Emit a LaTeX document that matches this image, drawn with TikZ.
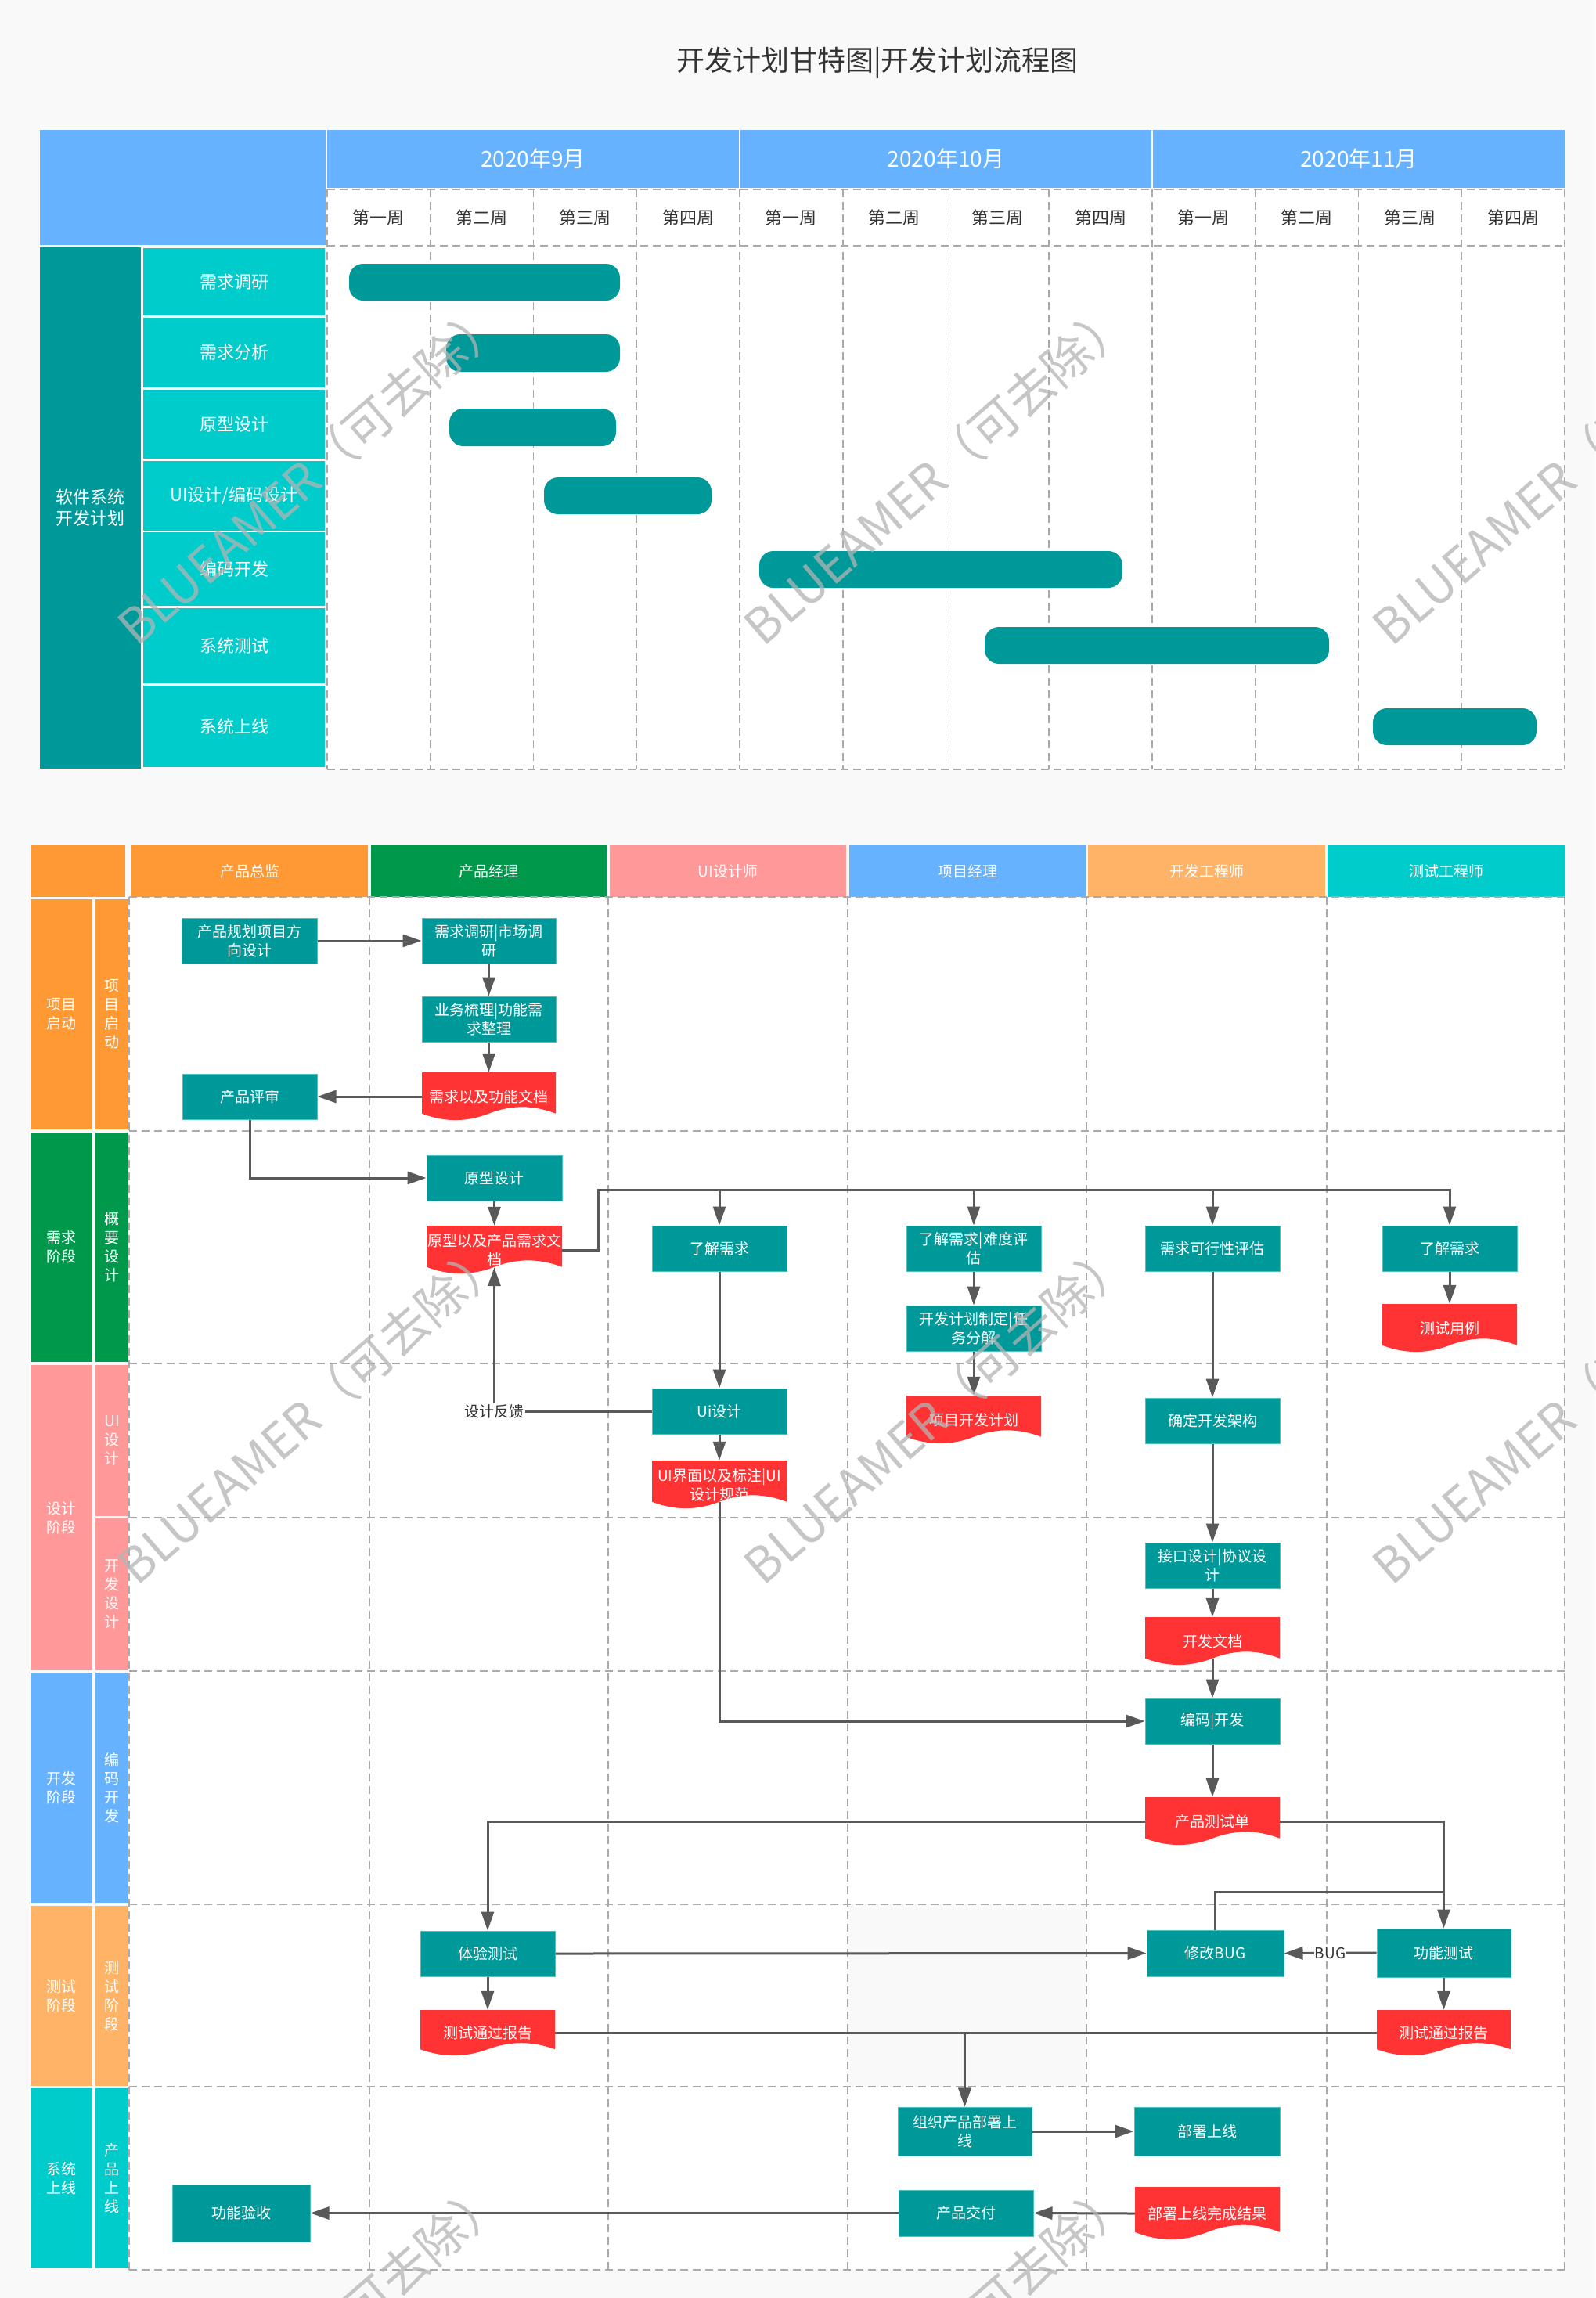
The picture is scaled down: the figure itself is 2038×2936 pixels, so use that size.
\documentclass[tikz,border=0pt]{standalone}
\usepackage{fontspec}
\setmainfont{Noto Sans CJK SC}
\usetikzlibrary{arrows.meta,calc}
\definecolor{bgc}{HTML}{F9F9F9}
\definecolor{teal1}{HTML}{009999}
\definecolor{cyan1}{HTML}{00CCCC}
\definecolor{blue1}{HTML}{66B2FF}
\definecolor{orange1}{HTML}{FF9933}
\definecolor{green1}{HTML}{00994C}
\definecolor{pink1}{HTML}{FF9999}
\definecolor{lorange}{HTML}{FFB366}
\definecolor{red1}{HTML}{FF3333}
\definecolor{linec}{HTML}{595959}
\definecolor{gridc}{HTML}{AAAAAA}
\definecolor{txtc}{HTML}{333333}
\definecolor{tborder}{HTML}{4DC2C2}
\definecolor{wmc}{HTML}{B4B4B4}

\tikzset{
  tbox/.style={fill=teal1, draw=tborder, line width=1pt, text=white, align=center,
    font=\fontsize{19}{24}\selectfont, inner sep=1pt},
  dbox/.style={text=white, align=center, font=\fontsize{19}{24}\selectfont, inner sep=0pt},
  arr/.style={draw=linec, line width=3pt, -{Triangle[length=24pt,width=16pt]}},
  ln/.style={draw=linec, line width=3pt},
  gridln/.style={draw=gridc, line width=1.6pt, dash pattern=on 10pt off 6pt},
  lbl/.style={fill=white, text=txtc, font=\fontsize{19}{24}\selectfont, inner sep=1pt},
  cell/.style={inner sep=0pt, text=white, align=center},
  task/.style={cell, fill=cyan1, font=\fontsize{22}{27}\selectfont},
  wk/.style={text=txtc, font=\fontsize{22}{26}\selectfont},
  month/.style={cell, fill=blue1, font=\fontsize{28}{32}\selectfont},
  lane/.style={cell, font=\fontsize{19}{24}\selectfont},
  wm/.style={rotate=41, text=wmc, text opacity=0.75, font=\fontsize{62}{70}\selectfont},
}

\newcommand{\mkbox}[6]{%
  \node[tbox, minimum width={#4-#2}, minimum height={#5-#3}] (#1) at ({(#2+#4)/2},{(#3+#5)/2}) {#6};}
\newcommand{\mkdoc}[6]{%
  \pgfmathsetmacro{\myW}{#4-#2}%
  \pgfmathsetmacro{\myH}{#5-#3}%
  \pgfmathsetmacro{\myD}{0.3*\myH}%
  \pgfmathsetmacro{\myB}{#5-\myD/2}%
  \fill[red1] (#2,#3) -- (#4,#3) -- (#4,\myB)
    .. controls ({#4-\myW/6},{\myB-0.6*\myD}) and ({#2+\myW*2/3},{\myB-0.6*\myD}) .. ({#2+\myW/2},\myB)
    .. controls ({#2+\myW/3},{\myB+0.6*\myD}) and ({#2+\myW/6},{\myB+0.6*\myD}) .. (#2,\myB) -- cycle;
  \node[dbox, minimum width={#4-#2}, minimum height={#5-#3}] (#1) at ({(#2+#4)/2},{(#3+#5)/2}) {#6};}

\begin{document}
\begin{tikzpicture}[x=1pt,y=-1pt]
\path[use as bounding box, fill=bgc] (0,0) rectangle (2038,2936);

% ---------- title ----------
\node[text=txtc, font=\fontsize{36}{42}\selectfont] (title) at (1121,80) {开发计划甘特图|开发计划流程图};

% ---------- Gantt ----------
\node[cell, fill=blue1, minimum width=365, minimum height=147] (corner) at (233.5,239.5) {};
\node[month, minimum width=526, minimum height=74] (m9) at (681,203) {2020年9月};
\node[month, minimum width=525, minimum height=74] (m10) at (1208.5,203) {2020年10月};
\node[month, minimum width=526, minimum height=74] (m11) at (1736,203) {2020年11月};
\fill[white] (418,242) rectangle (1999,983);
\foreach \i/\t in {0/第一周,1/第二周,2/第三周,3/第四周,4/第一周,5/第二周,6/第三周,7/第四周,8/第一周,9/第二周,10/第三周,11/第四周}
  \node[wk] (wk\i) at ({418+131.75*(\i+0.5)},278) {\t};
\foreach \y in {242,314,983} \draw[gridln] (418,\y) -- (1999,\y);
\foreach \i in {0,...,12} \draw[gridln] ({418+131.75*\i},242) -- ({418+131.75*\i},983);

\node[cell, fill=teal1, minimum width=129, minimum height=666, font=\fontsize{22}{27}\selectfont] (grp) at (115.5,649) {软件系统\\开发计划};
\node[task, minimum width=232, minimum height=86] (tk1) at (299,360) {需求调研};
\node[task, minimum width=232, minimum height=89] (tk2) at (299,450.5) {需求分析};
\node[task, minimum width=232, minimum height=88] (tk3) at (299,542) {原型设计};
\node[task, minimum width=232, minimum height=89] (tk4) at (299,633.5) {UI设计/编码设计};
\node[task, minimum width=232, minimum height=94] (tk5) at (299,727) {编码开发};
\node[task, minimum width=232, minimum height=96] (tk6) at (299,825) {系统测试};
\node[task, minimum width=232, minimum height=104] (tk7) at (299,928) {系统上线};

\fill[teal1, rounded corners=18pt] (446,337) rectangle (792,384);
\fill[teal1, rounded corners=18pt] (570,427) rectangle (792,475);
\fill[teal1, rounded corners=18pt] (574,522) rectangle (787,570);
\fill[teal1, rounded corners=18pt] (695,610) rectangle (909,657);
\fill[teal1, rounded corners=18pt] (970,704) rectangle (1434,751);
\fill[teal1, rounded corners=18pt] (1258,801) rectangle (1698,848);
\fill[teal1, rounded corners=18pt] (1754,905) rectangle (1963,952);

% ---------- Swimlane frame ----------
\node[cell, fill=orange1, minimum width=121, minimum height=66] (sc) at (99.5,1113) {};
\node[lane, fill=orange1, minimum width=302, minimum height=66] (h1) at (319,1113) {产品总监};
\node[lane, fill=green1, minimum width=301, minimum height=66] (h2) at (624.5,1113) {产品经理};
\node[lane, fill=pink1, minimum width=302, minimum height=66] (h3) at (930,1113) {UI设计师};
\node[lane, fill=blue1, minimum width=302, minimum height=66] (h4) at (1236,1113) {项目经理};
\node[lane, fill=lorange, minimum width=303, minimum height=66] (h5) at (1541.5,1113) {开发工程师};
\node[lane, fill=cyan1, minimum width=303, minimum height=66] (h6) at (1847.5,1113) {测试工程师};

\node[lane, fill=orange1, minimum width=79, minimum height=294] (r1) at (78.5,1296) {项目\\启动};
\node[lane, fill=orange1, minimum width=42, minimum height=294] (s1) at (143,1296) {项\\目\\启\\动};
\node[lane, fill=green1, minimum width=79, minimum height=293] (r2) at (78.5,1593.5) {需求\\阶段};
\node[lane, fill=green1, minimum width=42, minimum height=293] (s2) at (143,1593.5) {概\\要\\设\\计};
\node[lane, fill=pink1, minimum width=79, minimum height=390] (r3) at (78.5,1939) {设计\\阶段};
\node[lane, fill=pink1, minimum width=42, minimum height=193] (s3a) at (143,1840.5) {UI\\设\\计};
\node[lane, fill=pink1, minimum width=42, minimum height=194] (s3b) at (143,2037) {开\\发\\设\\计};
\node[lane, fill=blue1, minimum width=79, minimum height=294] (r4) at (78.5,2284) {开发\\阶段};
\node[lane, fill=blue1, minimum width=42, minimum height=294] (s4) at (143,2284) {编\\码\\开\\发};
\node[lane, fill=lorange, minimum width=79, minimum height=230] (r5) at (78.5,2550) {测试\\阶段};
\node[lane, fill=lorange, minimum width=42, minimum height=230] (s5) at (143,2550) {测\\试\\阶\\段};
\node[lane, fill=cyan1, minimum width=79, minimum height=230] (r6) at (78.5,2783) {系统\\上线};
\node[lane, fill=cyan1, minimum width=42, minimum height=230] (s6) at (143,2783) {产\\品\\上\\线};

\fill[white] (165,1146) rectangle (1999,2900);
\fill[bgc] (1083,2433) rectangle (1388,2666);
\foreach \x in {165,472,777,1083,1388,1695,1999} \draw[gridln] (\x,1146) -- (\x,2900);
\foreach \y in {1146,1445,1742,1939,2135,2433,2666,2900} \draw[gridln] (165,\y) -- (1999,\y);

% ---------- flow nodes ----------
\mkbox{n1}{232}{1173}{405}{1231}{产品规划项目方\\向设计}
\mkbox{n2}{539}{1173}{710}{1231}{需求调研|市场调\\研}
\mkbox{n3}{539}{1273}{710}{1331}{业务梳理|功能需\\求整理}
\mkdoc{d1}{539}{1370}{710}{1432}{需求以及功能文档}
\mkbox{n4}{233}{1372}{405}{1430}{产品评审}
\mkbox{n5}{545}{1476}{718}{1534}{原型设计}
\mkdoc{d2}{545}{1566}{718}{1628}{原型以及产品需求文\\档}
\mkbox{n6}{833}{1566}{1005}{1624}{了解需求}
\mkbox{n7}{1158}{1566}{1330}{1624}{了解需求|难度评\\估}
\mkbox{n8}{1158}{1668}{1330}{1726}{开发计划制定|任\\务分解}
\mkbox{n9}{1463}{1566}{1635}{1624}{需求可行性评估}
\mkbox{n10}{1766}{1566}{1938}{1624}{了解需求}
\mkdoc{d3}{1766}{1666}{1938}{1728}{测试用例}
\mkbox{n11}{833}{1774}{1005}{1832}{Ui设计}
\mkdoc{d4}{833}{1866}{1005}{1928}{UI界面以及标注|UI\\设计规范}
\mkdoc{d5}{1158}{1783}{1330}{1845}{项目开发计划}
\mkbox{n12}{1463}{1786}{1635}{1844}{确定开发架构}
\mkbox{n13}{1463}{1971}{1635}{2029}{接口设计|协议设\\计}
\mkdoc{d6}{1463}{2066}{1635}{2128}{开发文档}
\mkbox{n14}{1463}{2170}{1635}{2228}{编码|开发}
\mkdoc{d7}{1463}{2296}{1635}{2358}{产品测试单}
\mkbox{n15}{537}{2467}{709}{2525}{体验测试}
\mkdoc{d8}{537}{2568}{709}{2627}{测试通过报告}
\mkbox{n16}{1465}{2466}{1640}{2525}{修改BUG}
\mkbox{n17}{1759}{2464}{1930}{2526}{功能测试}
\mkdoc{d9}{1759}{2568}{1930}{2627}{测试通过报告}
\mkbox{n18}{1147}{2692}{1318}{2754}{组织产品部署上\\线}
\mkbox{n19}{1449}{2692}{1635}{2754}{部署上线}
\mkbox{n20}{1148}{2798}{1320}{2857}{产品交付}
\mkdoc{d10}{1450}{2794}{1635}{2862}{部署上线完成结果}
\mkbox{n21}{220}{2791}{396}{2864}{功能验收}

\coordinate (bus) at (764,1520);
\coordinate (bugj) at (1844.5,2417);

% ---------- connectors ----------
\draw[arr] (n1.east) -- (n2.west);
\draw[arr] (n2.south) -- (n3.north);
\draw[arr] (n3.south) -- (d1.north);
\draw[arr] (d1.west) -- (n4.east);
\draw[arr] (n4.south) |- (n5.west);
\draw[arr] (n5.south) -- (d2.north);
\draw[arr] (d2.east) -| (bus) -| (n10.north);
\draw[arr] (n6.north |- bus) -- (n6.north);
\draw[arr] (n7.north |- bus) -- (n7.north);
\draw[arr] (n9.north |- bus) -- (n9.north);
\draw[arr] (n6.south) -- (n11.north);
\draw[arr] (n11.south) -- (d4.north);
\draw[arr] (n11.west) -| node[lbl, pos=0.5] (fb) {设计反馈} ([yshift=9pt]d2.south);
\draw[arr] (n7.south) -- (n8.north);
\draw[arr] (n8.south) -- (d5.north);
\draw[arr] (n9.south) -- (n12.north);
\draw[arr] (n12.south) -- (n13.north);
\draw[arr] (n13.south) -- (d6.north);
\draw[arr] ([yshift=9pt]d6.south) -- (n14.north);
\draw[arr] (n14.south) -- (d7.north);
\draw[arr] (n10.south) -- (d3.north);
\draw[arr] ([yshift=9pt]d4.south) |- (n14.west);
\draw[arr] (d7.west) -| (n15.north);
\draw[arr] (d7.east) -| (n17.north);
\draw[ln] (n16.north) |- (bugj);
\draw[arr] (n15.east) -- (n16.west);
\draw[arr] (n17.west) -- node[lbl] (bug) {BUG} (n16.east);
\draw[arr] (n15.south) -- (d8.north);
\draw[arr] (n17.south) -- (d9.north);
\draw[arr] (d8.east) -| (n18.north);
\draw[arr] (d9.west) -| (n18.north);
\draw[arr] (n18.east) -- (n19.west);
\draw[arr] (d10.west) -- (n20.east);
\draw[arr] (n20.west) -- (n21.east);

% ---------- watermarks ----------
\node[wm] (wm1) at (397,604) {BLUEAMER（可去除）};
\node[wm] (wm2) at (1197,604) {BLUEAMER（可去除）};
\node[wm] (wm3) at (2000,604) {BLUEAMER（可去除）};
\node[wm] (wm4) at (397,1804) {BLUEAMER（可去除）};
\node[wm] (wm5) at (1197,1804) {BLUEAMER（可去除）};
\node[wm] (wm6) at (2000,1804) {BLUEAMER（可去除）};
\node[wm] (wm7) at (397,3004) {BLUEAMER（可去除）};
\node[wm] (wm8) at (1197,3004) {BLUEAMER（可去除）};
\end{tikzpicture}
\end{document}
